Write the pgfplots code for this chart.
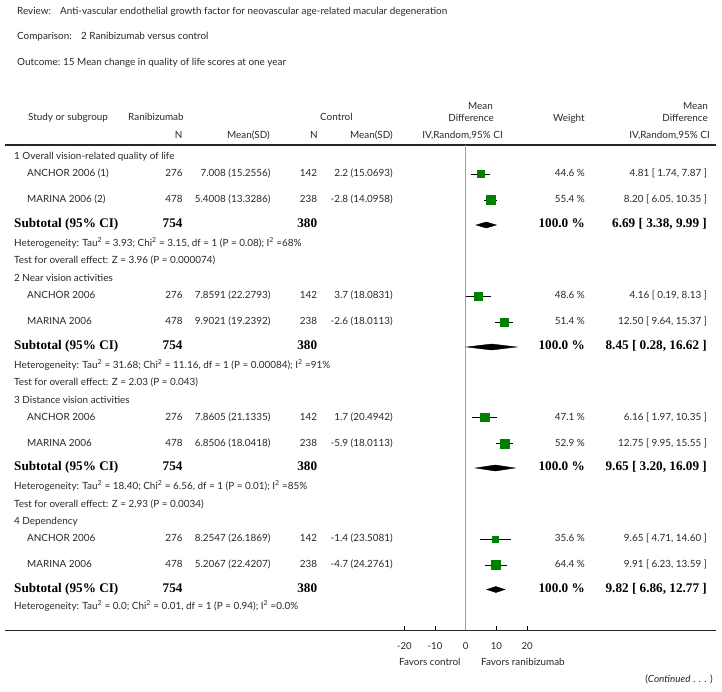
\documentclass[border=0pt]{standalone}
\usepackage{pgfplots}
\pgfplotsset{compat=1.18}
\usepackage{pgfplotstable}
\usepackage{fontspec}
\setmainfont{Lato}
\newfontfamily\bser{Liberation Serif}
\definecolor{boxgreen}{RGB}{0,128,0}
\definecolor{txt}{RGB}{40,40,40}
\definecolor{zline}{RGB}{160,160,160}

% studies: y (row position), mean difference, 95% CI, box half-size
\pgfplotstableread{
y     md     lo     hi     s
174   4.81   1.74   7.87   3.5
200   8.20   6.05   10.35  4.6
296   4.16   0.19   8.13   4.15
322   12.50  9.64   15.37  4.15
417.5 6.16   1.97   10.35  4.15
443.5 12.75  9.95   15.55  4.3
539   9.65   4.71   14.60  3.0
565   9.91   6.23   13.59  4.5
}\studies

\newcommand{\Lt}[3]{\node[anchor=mid west,inner sep=0pt,text=txt] at (#1,#2) {#3};}
\newcommand{\Rt}[3]{\node[anchor=mid east,inner sep=0pt,text=txt] at (#1,#2) {#3};}
\newcommand{\Bl}[3]{\node[anchor=mid west,inner sep=0pt] at (#1,#2) {\bser\bfseries\fontsize{13.2}{15}\selectfont #3};}
\newcommand{\Br}[3]{\node[anchor=mid east,inner sep=0pt] at (#1,#2) {\bser\bfseries\fontsize{13.2}{15}\selectfont #3};}
\newcommand{\Study}[8]{%
 \Lt{27}{#1}{#2}\Rt{182.7}{#1}{#3}\Rt{270.7}{#1}{#4}\Rt{317.3}{#1}{#5}\Rt{393}{#1}{#6}\Rt{585}{#1}{#7}\Rt{707}{#1}{#8}}
\newcommand{\Sub}[2]{%
 \Bl{14}{#1}{Subtotal (95\% CI)}\Br{182.7}{#1}{754}\Br{317.3}{#1}{380}\Br{585}{#1}{100.0 \%}\Br{707}{#1}{#2}}

\begin{document}
\fontsize{9.9}{12}\selectfont
\begin{tikzpicture}
\begin{axis}[at={(0pt,0pt)},anchor=south west,scale only axis,width=722pt,height=691pt,
  xmin=0,xmax=722,ymin=0,ymax=691,y dir=reverse,hide axis,clip=false]
\Lt{17}{12}{Review:}\Lt{60}{12}{Anti-vascular endothelial growth factor for neovascular age-related macular degeneration}
\Lt{17}{37}{Comparison:}\Lt{81}{37}{2 Ranibizumab versus control}
\Lt{17}{63}{Outcome:}\Lt{63}{63}{15 Mean change in quality of life scores at one year}
% header
\Lt{28}{118}{Study or subgroup}\Lt{128}{118}{Ranibizumab}\Lt{320}{118}{Control}
\Rt{493}{106.5}{Mean}\Rt{494}{119}{Difference}\Lt{553}{119}{Weight}
\Rt{708}{106.5}{Mean}\Rt{708}{119}{Difference}
\Rt{182.7}{135.7}{N}\Rt{270}{135.7}{Mean(SD)}\Rt{318}{135.7}{N}\Rt{393}{135.7}{Mean(SD)}
\Rt{503}{135.7}{IV,Random,95\% CI}\Rt{710}{135.7}{IV,Random,95\% CI}
\draw[line width=1.3pt,black!85] (5,145) -- (716,145);
\draw[line width=1pt,black!85] (5,630) -- (716,630);
% group 1
\Lt{14}{157}{1 Overall vision-related quality of life}
\Study{174}{ANCHOR 2006 (1)}{276}{7.008 (15.2556)}{142}{2.2 (15.0693)}{44.6 \%}{4.81 [ 1.74, 7.87 ]}
\Study{200}{MARINA 2006 (2)}{478}{5.4008 (13.3286)}{238}{-2.8 (14.0958)}{55.4 \%}{8.20 [ 6.05, 10.35 ]}
\Sub{225}{6.69 [ 3.38, 9.99 ]}
\Lt{14}{243.5}{Heterogeneity: Tau\textsuperscript{2} = 3.93; Chi\textsuperscript{2} = 3.15, df = 1 (P = 0.08); I\textsuperscript{2} =68\%}
\Lt{14}{261}{Test for overall effect: Z = 3.96 (P = 0.000074)}
% group 2
\Lt{14}{279}{2 Near vision activities}
\Study{296}{ANCHOR 2006}{276}{7.8591 (22.2793)}{142}{3.7 (18.0831)}{48.6 \%}{4.16 [ 0.19, 8.13 ]}
\Study{322}{MARINA 2006}{478}{9.9021 (19.2392)}{238}{-2.6 (18.0113)}{51.4 \%}{12.50 [ 9.64, 15.37 ]}
\Sub{347}{8.45 [ 0.28, 16.62 ]}
\Lt{14}{365.5}{Heterogeneity: Tau\textsuperscript{2} = 31.68; Chi\textsuperscript{2} = 11.16, df = 1 (P = 0.00084); I\textsuperscript{2} =91\%}
\Lt{14}{383}{Test for overall effect: Z = 2.03 (P = 0.043)}
% group 3
\Lt{14}{400.5}{3 Distance vision activities}
\Study{417.5}{ANCHOR 2006}{276}{7.8605 (21.1335)}{142}{1.7 (20.4942)}{47.1 \%}{6.16 [ 1.97, 10.35 ]}
\Study{443.5}{MARINA 2006}{478}{6.8506 (18.0418)}{238}{-5.9 (18.0113)}{52.9 \%}{12.75 [ 9.95, 15.55 ]}
\Sub{468}{9.65 [ 3.20, 16.09 ]}
\Lt{14}{487}{Heterogeneity: Tau\textsuperscript{2} = 18.40; Chi\textsuperscript{2} = 6.56, df = 1 (P = 0.01); I\textsuperscript{2} =85\%}
\Lt{14}{504.5}{Test for overall effect: Z = 2.93 (P = 0.0034)}
% group 4
\Lt{14}{522}{4 Dependency}
\Study{539}{ANCHOR 2006}{276}{8.2547 (26.1869)}{142}{-1.4 (23.5081)}{35.6 \%}{9.65 [ 4.71, 14.60 ]}
\Study{565}{MARINA 2006}{478}{5.2067 (22.4207)}{238}{-4.7 (24.2761)}{64.4 \%}{9.91 [ 6.23, 13.59 ]}
\Sub{589.5}{9.82 [ 6.86, 12.77 ]}
\Lt{14}{607}{Heterogeneity: Tau\textsuperscript{2} = 0.0; Chi\textsuperscript{2} = 0.01, df = 1 (P = 0.94); I\textsuperscript{2} =0.0\%}
% footer
\Lt{399}{663.3}{Favors control}\Lt{481}{663.3}{Favors ranibizumab}
\Rt{713}{679.5}{(\textit{Continued} . . . )}
\end{axis}
\begin{axis}[at={(0pt,61pt)},anchor=south west,scale only axis,width=722pt,height=485pt,
  xmin=-151.69,xmax=83.49,ymin=145,ymax=630,y dir=reverse,
  axis line style={draw=none},axis y line=none,clip=false,
  xtick={-20,-10,0,10,20},xticklabels={-20,-10,0,10,20},
  xtick pos=bottom,tick align=inside,major tick length=4pt,
  tick style={black,line width=0.8pt},
  /pgf/number format/assume math mode=true,
  xticklabel style={font=\fontsize{9.6}{11}\selectfont,text=txt,yshift=-9pt}]
\addplot[zline,line width=0.8pt] coordinates {(0,145) (0,630)};
\addplot[scatter,only marks,mark=square*,
  scatter/use mapped color={draw=boxgreen,fill=boxgreen},
  visualization depends on={\thisrow{s} \as \msz},
  scatter/@pre marker code/.append style={/tikz/mark size=\msz}]
  table[x=md,y=y]{\studies};
\addplot[draw=none,mark=none,
  error bars/.cd,x dir=both,x explicit,error mark=none,
  error bar style={black,line width=0.6pt}]
  table[x=md,y=y,x error plus expr=\thisrow{hi}-\thisrow{md},x error minus expr=\thisrow{md}-\thisrow{lo}]{\studies};
% subtotal diamonds
\addplot[fill=black,draw=black] coordinates {(3.38,225) (6.69,222) (9.99,225) (6.69,228)} -- cycle;
\addplot[fill=black,draw=black] coordinates {(0.28,347) (8.45,344) (16.62,347) (8.45,350)} -- cycle;
\addplot[fill=black,draw=black] coordinates {(3.20,468) (9.65,465) (16.09,468) (9.65,471)} -- cycle;
\addplot[fill=black,draw=black] coordinates {(6.86,589.5) (9.82,586.5) (12.77,589.5) (9.82,592.5)} -- cycle;
\end{axis}
\pgfresetboundingbox
\path (0,0) rectangle (722pt,691pt);
\end{tikzpicture}
\end{document}
